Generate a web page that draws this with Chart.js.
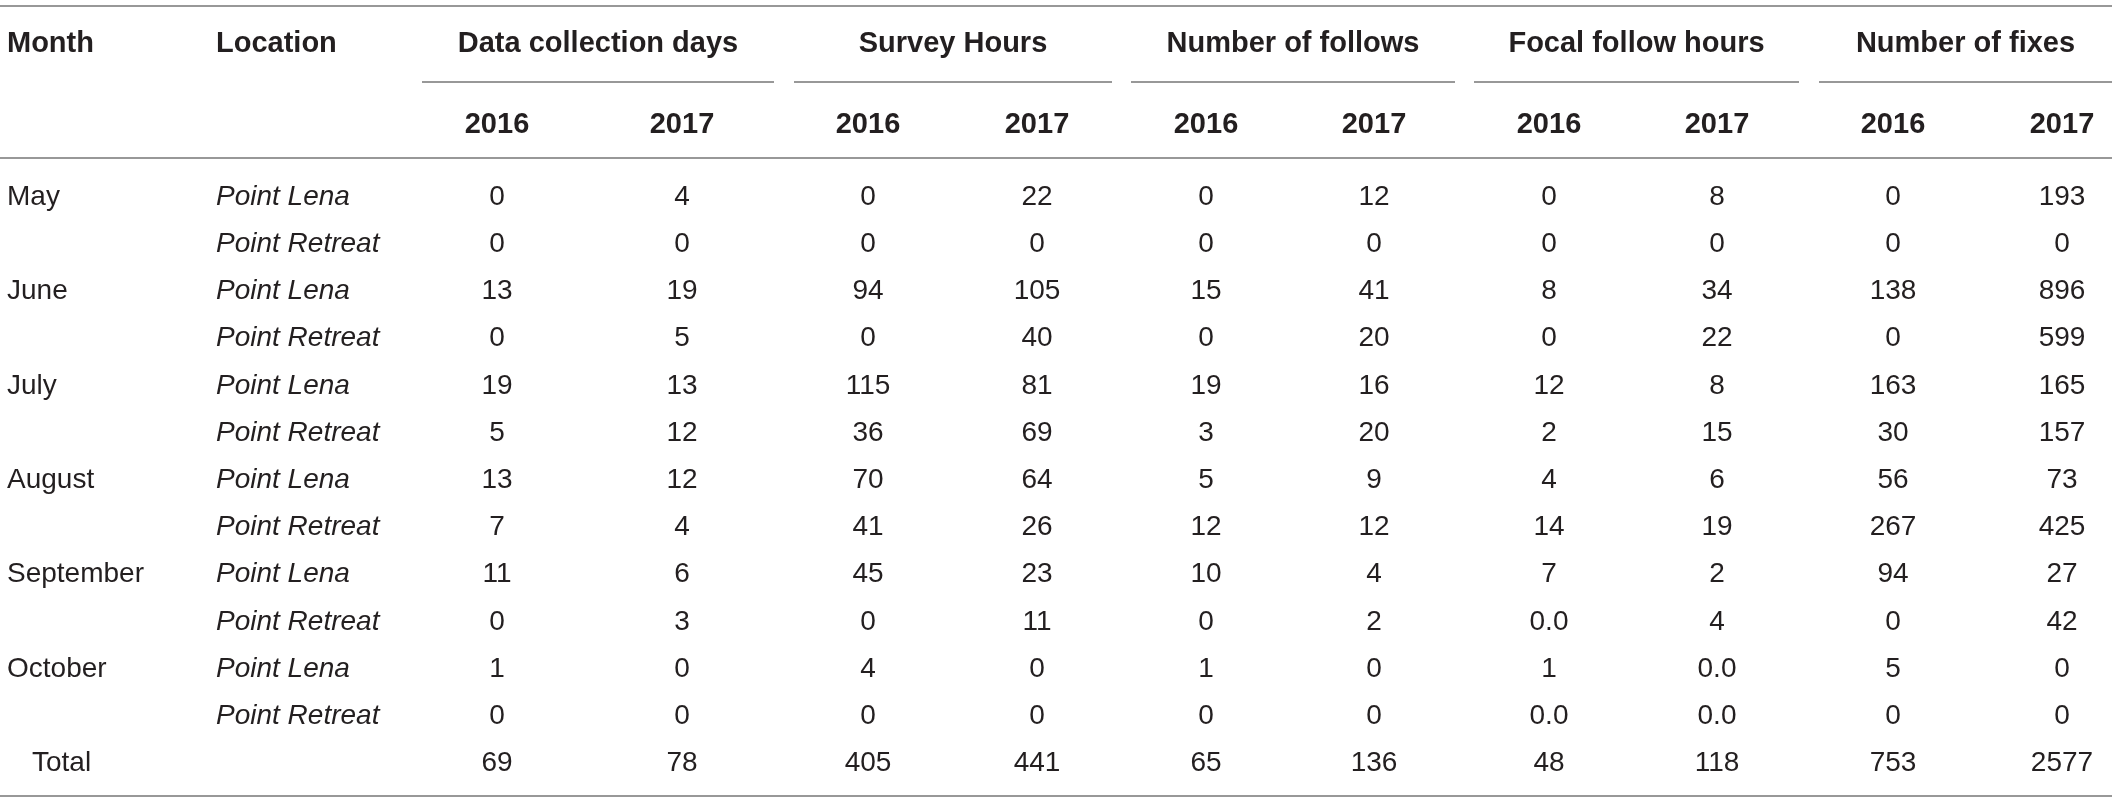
<!DOCTYPE html>
<html>
<head>
<meta charset="utf-8">
<script src="https://cdn.jsdelivr.net/npm/chart.js@4/dist/chart.umd.min.js"></script>
<style>
  html, body { margin: 0; padding: 0; background: #ffffff; }
  #wrap { width: 2118px; height: 803px; position: relative; }
  canvas { display: block; }
</style>
</head>
<body>
<div id="wrap"><canvas id="c" width="2118" height="803"></canvas></div>
<script>
// ---------------- DATA ----------------
const rowKeys = ['May-Lena','May-Retreat','Jun-Lena','Jun-Retreat','Jul-Lena','Jul-Retreat',
                 'Aug-Lena','Aug-Retreat','Sep-Lena','Sep-Retreat','Oct-Lena','Oct-Retreat','Total'];
const months    = ['May','','June','','July','','August','','September','','October','','Total'];
const locations = ['Point Lena','Point Retreat','Point Lena','Point Retreat','Point Lena','Point Retreat',
                   'Point Lena','Point Retreat','Point Lena','Point Retreat','Point Lena','Point Retreat',''];

const groupTitles = ['Data collection days','Survey Hours','Number of follows','Focal follow hours','Number of fixes'];
const years = ['2016','2017'];

const dataCollectionDays2016 = [0,0,13,0,19,5,13,7,11,0,1,0,69];
const dataCollectionDays2017 = [4,0,19,5,13,12,12,4,6,3,0,0,78];
const surveyHours2016        = [0,0,94,0,115,36,70,41,45,0,4,0,405];
const surveyHours2017        = [22,0,105,40,81,69,64,26,23,11,0,0,441];
const numberOfFollows2016    = [0,0,15,0,19,3,5,12,10,0,1,0,65];
const numberOfFollows2017    = [12,0,41,20,16,20,9,12,4,2,0,0,136];
const focalFollowHours2016   = [0,0,8,0,12,2,4,14,7,'0.0',1,'0.0',48];
const focalFollowHours2017   = [8,0,34,22,8,15,6,19,2,4,'0.0','0.0',118];
const numberOfFixes2016      = [0,0,138,0,163,30,56,267,94,0,5,0,753];
const numberOfFixes2017      = [193,0,896,599,165,157,73,425,27,42,0,0,2577];

const valueColumns = [
  dataCollectionDays2016, dataCollectionDays2017,
  surveyHours2016, surveyHours2017,
  numberOfFollows2016, numberOfFollows2017,
  focalFollowHours2016, focalFollowHours2017,
  numberOfFixes2016, numberOfFixes2017
];

// ---------------- LAYOUT (positions in x-scale units) ----------------
const colCenters = [497, 682, 868, 1037, 1206, 1374, 1549, 1717, 1893, 2062];
const groupSpans = [[422,774],[794,1112],[1131,1455],[1474,1799],[1819,2112]];
const monthX = 7, totalX = 32, locationX = 216, tableRight = 2112;

const TEXT = '#231f20';
const RULE = '#767676';
const FONT = '"Liberation Sans", Arial, Helvetica, sans-serif';

// datasets: one per column, each point = one cell
const datasets = [];
datasets.push({ kind: 'month', data: rowKeys.map((r,i)=>({x: i === 12 ? totalX : monthX, y: r, t: months[i]})) });
datasets.push({ kind: 'loc',   data: rowKeys.map((r,i)=>({x: locationX, y: r, t: locations[i]})) });
valueColumns.forEach((col, c) => {
  datasets.push({ kind: 'val', data: rowKeys.map((r,i)=>({x: colCenters[c], y: r, t: String(col[i])})) });
});
datasets.forEach(d => { d.pointRadius = 0; d.pointHoverRadius = 0; d.showLine = false; });

const tablePlugin = {
  id: 'tablePlugin',
  afterDatasetsDraw(chart) {
    const ctx = chart.ctx;
    const xs = chart.scales.x;
    const top = chart.chartArea.top, bottom = chart.chartArea.bottom;
    const X = v => xs.getPixelForValue(v);
    ctx.save();
    // rules
    ctx.strokeStyle = RULE;
    ctx.lineWidth = 1.6;
    const hline = (x1, x2, y) => { ctx.beginPath(); ctx.moveTo(X(x1), y); ctx.lineTo(X(x2), y); ctx.stroke(); };
    hline(0, tableRight, top - 165);   // top rule
    hline(0, tableRight, top - 13);    // below header
    hline(0, tableRight, bottom + 11); // bottom rule
    groupSpans.forEach(s => hline(s[0], s[1], top - 89));

    // header text
    ctx.fillStyle = TEXT;
    ctx.textBaseline = 'alphabetic';
    ctx.font = 'bold 29px ' + FONT;
    ctx.textAlign = 'left';
    ctx.fillText('Month', X(monthX), top - 119);
    ctx.fillText('Location', X(locationX), top - 119);
    ctx.textAlign = 'center';
    groupTitles.forEach((g, i) => {
      ctx.fillText(g, X((groupSpans[i][0] + groupSpans[i][1]) / 2), top - 119);
    });
    colCenters.forEach((cx, i) => {
      ctx.fillText(years[i % 2], X(cx), top - 38);
    });

    // cells
    chart.data.datasets.forEach((ds, di) => {
      const meta = chart.getDatasetMeta(di);
      if (ds.kind === 'loc') { ctx.font = 'italic 28px ' + FONT; ctx.textAlign = 'left'; }
      else if (ds.kind === 'month') { ctx.font = '28px ' + FONT; ctx.textAlign = 'left'; }
      else { ctx.font = '28px ' + FONT; ctx.textAlign = 'center'; }
      meta.data.forEach((el, i) => {
        const t = ds.data[i].t;
        if (t) ctx.fillText(t, el.x, el.y + 10);
      });
    });
    ctx.restore();
  }
};

new Chart(document.getElementById('c'), {
  type: 'scatter',
  data: { datasets },
  options: {
    responsive: false,
    devicePixelRatio: 1,
    animation: false,
    events: [],
    layout: { padding: { top: 171, bottom: 18, left: 0, right: 0 } },
    plugins: { legend: { display: false }, tooltip: { enabled: false } },
    scales: {
      x: { type: 'linear', min: 0, max: 2118, display: false },
      y: { type: 'category', labels: rowKeys, offset: true, display: false, reverse: false }
    }
  },
  plugins: [tablePlugin]
});
</script>
</body>
</html>
